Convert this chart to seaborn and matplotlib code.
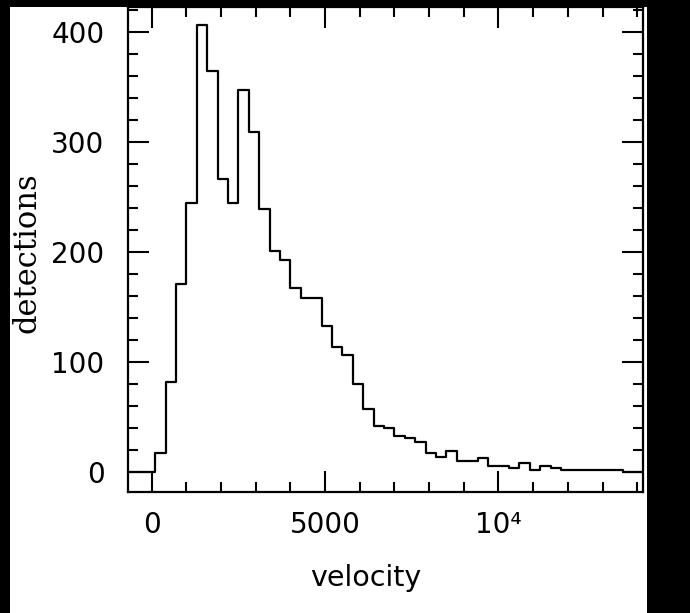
import numpy as np
import pandas as pd
import matplotlib
matplotlib.use("Agg")
import matplotlib.pyplot as plt
import seaborn as sns
from matplotlib.patches import Rectangle
from matplotlib.ticker import MultipleLocator, FixedLocator, FixedFormatter

# ---- data ----
bin_width = 300
first_edge = -800
counts = [0, 0, 0,
          17, 82, 171, 244, 406, 364, 266, 244, 347, 309,
          239, 201, 193, 167, 158, 158, 133, 114, 106, 80,
          57, 42, 40, 33, 31, 27, 17, 14, 19, 10,
          10, 13, 6, 6, 4, 8, 2, 6, 4, 2,
          2, 2, 2, 2, 2, 0, 0]
x_ticks = [0, 5000, 10000]
x_ticklabels = ["0", "5000", "10\u2074"]
y_ticks = [0, 100, 200, 300, 400]
y_ticklabels = ["0", "100", "200", "300", "400"]

edges = first_edge + bin_width * np.arange(len(counts) + 1)
centers = (edges[:-1] + edges[1:]) / 2
df = pd.DataFrame({"velocity": centers, "detections": counts})

sns.set_style("ticks")
plt.rcParams["font.family"] = ["DejaVu Sans"]

W, H = 690, 613
fig = plt.figure(figsize=(W / 100, H / 100), dpi=100, facecolor="black")
fig.patches.append(Rectangle((10 / W, 0), (647 - 10) / W, (H - 7) / H,
                             transform=fig.transFigure, facecolor="white",
                             edgecolor="none", zorder=-10))

left, right, top, bottom = 128, 643, 7, 492
ax = fig.add_axes([left / W, (H - bottom) / H, (right - left) / W, (bottom - top) / H])
ax.set_facecolor("white")

sns.histplot(data=df, x="velocity", weights="detections", binwidth=bin_width,
             binrange=(edges[0], edges[-1]), element="step", fill=False,
             color="black", linewidth=1.6, ax=ax)

ax.set_xlim(-683, 14167)
ax.set_ylim(-18, 422.4)

ax.xaxis.set_major_locator(FixedLocator(x_ticks))
ax.xaxis.set_major_formatter(FixedFormatter(x_ticklabels))
ax.xaxis.set_minor_locator(MultipleLocator(1000))
ax.yaxis.set_major_locator(FixedLocator(y_ticks))
ax.yaxis.set_major_formatter(FixedFormatter(y_ticklabels))
ax.yaxis.set_minor_locator(MultipleLocator(20))

ax.tick_params(which="both", direction="in", top=True, right=True,
               bottom=True, left=True, color="black", width=1.5,
               labelcolor="black")
ax.tick_params(which="major", length=15)
ax.tick_params(which="minor", length=7.5)
ax.tick_params(axis="x", which="major", labelsize=20, pad=14)
ax.tick_params(axis="y", which="major", labelsize=20, pad=17)

for s in ax.spines.values():
    s.set_color("black")
    s.set_linewidth(1.6)
    s.set_visible(True)

ax.set_xlabel("")
ax.set_ylabel("")
fig.text(366 / W, 1 - 578 / H, "velocity", ha="center", va="center",
         fontsize=20.5, color="black")
fig.text(27 / W, 1 - 253 / H, "detections", ha="center", va="center",
         rotation=90, fontsize=22, family=["DejaVu Serif"], color="black")

fig.savefig("out.png", dpi=100, facecolor=fig.get_facecolor())
